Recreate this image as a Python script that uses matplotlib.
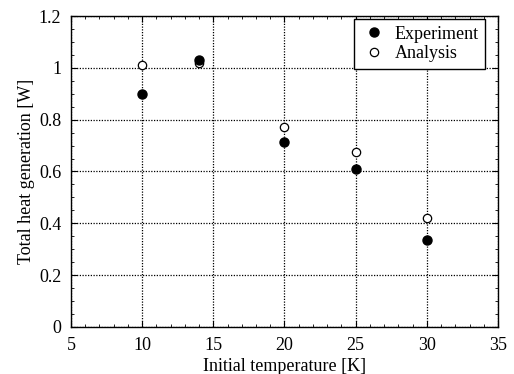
import matplotlib
matplotlib.use("Agg")
import matplotlib.pyplot as plt
from matplotlib.ticker import MultipleLocator

plt.rcParams['font.family'] = ['Liberation Serif', 'DejaVu Serif']

temps = [10, 14, 20, 25, 30]
experiment = [0.90, 1.03, 0.715, 0.61, 0.335]
analysis = [1.01, 1.02, 0.77, 0.675, 0.42]

fig = plt.figure(figsize=(5.14, 3.74), dpi=100)
ax = fig.add_axes([0.138, 0.126, 0.831, 0.831])

ax.plot(temps, analysis, linestyle='none', marker='o', markersize=6,
        markerfacecolor='white', markeredgecolor='black', markeredgewidth=0.9,
        label='Analysis', zorder=3)
ax.plot(temps, experiment, linestyle='none', marker='o', markersize=6.5,
        color='black', label='Experiment', zorder=4)

ax.set_xlim(5, 35)
ax.set_ylim(0, 1.2)
ax.xaxis.set_major_locator(MultipleLocator(5))
ax.xaxis.set_minor_locator(MultipleLocator(1))
ax.yaxis.set_major_locator(MultipleLocator(0.2))
ax.yaxis.set_minor_locator(MultipleLocator(0.05))
ax.set_yticks([0, 0.2, 0.4, 0.6, 0.8, 1.0, 1.2])
ax.set_yticklabels(['0', '0.2', '0.4', '0.6', '0.8', '1', '1.2'])
ax.tick_params(which='both', direction='in', top=True, right=True, labelsize=13)
ax.tick_params(which='major', length=4)
ax.tick_params(which='minor', length=2)
ax.tick_params(axis='x', which='major', pad=7)
ax.tick_params(axis='y', which='major', pad=7)
ax.grid(True, which='major', linestyle=(0, (1, 1.2)), color='black', linewidth=0.9)
for s in ax.spines.values():
    s.set_linewidth(1.0)

ax.set_xlabel('Initial temperature [K]', fontsize=13, labelpad=3)
ax.set_ylabel('Total heat generation [W]', fontsize=13, labelpad=3)

h, l = ax.get_legend_handles_labels()
leg = ax.legend([h[1], h[0]], [l[1], l[0]], loc='upper right',
                bbox_to_anchor=(0.9696, 0.990), fontsize=13,
                fancybox=False, edgecolor='black', framealpha=1,
                borderaxespad=0.0, handletextpad=0.4, borderpad=0.35,
                labelspacing=0.15, handlelength=1.5)
leg.get_frame().set_linewidth(1.0)

fig.savefig('out.png', dpi=100)
